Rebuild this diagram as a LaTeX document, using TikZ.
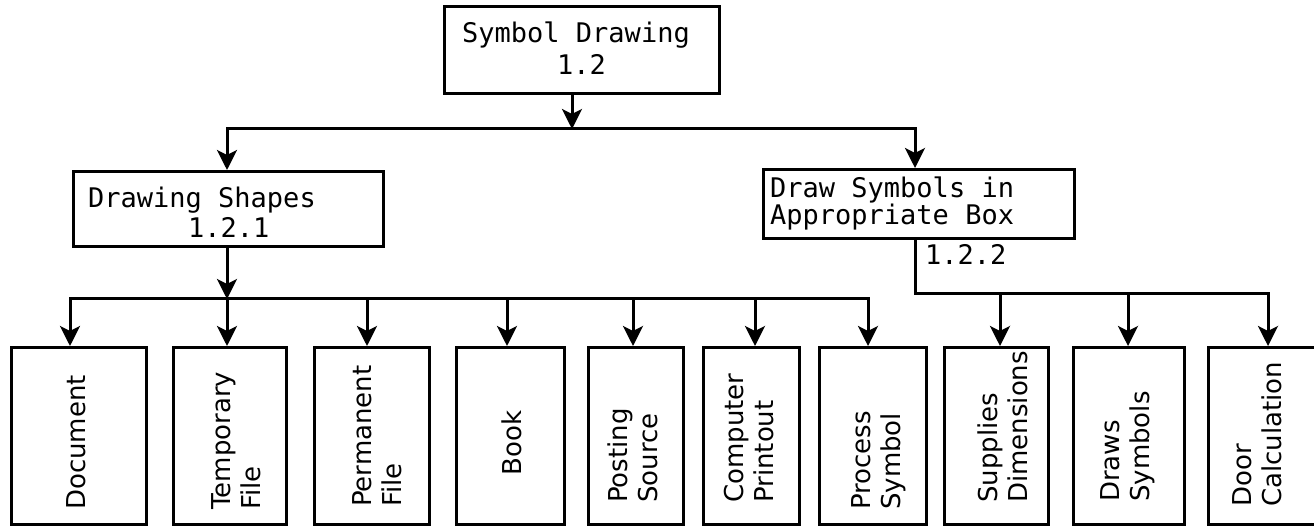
\documentclass[tikz,border=0pt]{standalone}
\usepackage{fontspec}
\setmainfont{DejaVu Sans}
\newfontfamily\monofam{DejaVu Sans Mono}
\usetikzlibrary{arrows.meta}
\tikzset{
  box/.style={draw, line width=3pt, rectangle, inner sep=0pt, anchor=north west},
  conn/.style={line width=3pt, line cap=rect},
  arr/.style={conn, -{Stealth[length=20pt,width=20pt,inset=5pt]}},
  mtext/.style={font=\monofam\fontsize{27}{32}\selectfont, inner sep=0pt, anchor=base west},
  vtext/.style={font=\fontsize{26}{30}\selectfont, inner sep=0pt, rotate=90, align=left, anchor=west},
}
\begin{document}
\begin{tikzpicture}[x=1pt,y=-1pt]
\useasboundingbox (0,0) rectangle (1314,526);
\clip (0,0) rectangle (1314,526);
% top level boxes
\node[box, minimum width=275pt, minimum height=87pt] (T) at (443,5) {};
\node[mtext] (T1) at (462,43) {Symbol Drawing};
\node[mtext] (T2) at (557,75) {1.2};
\node[box, minimum width=310pt, minimum height=75pt] (DS) at (72,170) {};
\node[mtext] (DS1) at (88,208) {Drawing Shapes};
\node[mtext] (DS2) at (188,238) {1.2.1};
\node[box, minimum width=311pt, minimum height=69pt] (RB) at (762,168) {};
\node[mtext] (RB1) at (770,198) {Draw Symbols in};
\node[mtext] (RB2) at (770,225) {Appropriate Box};
\node[mtext] (RB3) at (925,265) {1.2.2};
% bottom boxes
\foreach \n/\xa/\xb in {Doc/10/145, Tmp/172/285, Perm/313/428, Book/455/563, Post/587/682,
  Comp/702/798, Proc/818/925, Supp/943/1047, Draw/1072/1183, Door/1207/1330}{
  \pgfmathsetmacro{\w}{\xb-\xa}
  \node[box, minimum width=\w pt, minimum height=177pt] (\n) at (\xa,346) {};
}
\node[vtext] (tDoc) at (76,510) {Document};
\node[vtext] (tTmp) at (236,510) {Temporary\\File};
\node[vtext] (tPerm) at (377,507) {Permanent\\File};
\node[vtext, anchor=center] (tBook) at (512,443) {Book};
\node[vtext] (tPost) at (633,503) {Posting\\Source};
\node[vtext] (tComp) at (749,503) {Computer\\Printout};
\node[vtext] (tProc) at (879,510) {Process\\Symbol};
\node[vtext] (tSupp) at (1003,503) {Supplies\\Dimensions};
\node[vtext] (tDraw) at (1128,502) {Draws\\Symbols};
\node[vtext] (tDoor) at (1257,507) {Door\\Calculation};
% junction coordinates
\coordinate (m1) at (227,129);
\coordinate (m2) at (572,129);
\coordinate (m3) at (915,129);
\coordinate (b1) at (70,299);
\coordinate (b2) at (227,299);
\coordinate (b3) at (367,299);
\coordinate (b4) at (507,299);
\coordinate (b5) at (633,299);
\coordinate (b6) at (755,299);
\coordinate (b7) at (868,299);
\coordinate (r0) at (915,294);
\coordinate (r1) at (1000,294);
\coordinate (r2) at (1128,294);
\coordinate (r3) at (1268,294);
% connectors
\draw[arr] (T.south -| m2) -- (m2);
\draw[conn] (m1) -- (m3);
\draw[arr] (m1) -- (m1 |- DS.north);
\draw[arr] (m3) -- (m3 |- RB.north);
\draw[arr] (DS.south -| b2) -- (b2);
\draw[conn] (b1) -- (b7);
\draw[arr] (b1) -- (b1 |- Doc.north);
\draw[arr] (b2) -- (b2 |- Tmp.north);
\draw[arr] (b3) -- (b3 |- Perm.north);
\draw[arr] (b4) -- (b4 |- Book.north);
\draw[arr] (b5) -- (b5 |- Post.north);
\draw[arr] (b6) -- (b6 |- Comp.north);
\draw[arr] (b7) -- (b7 |- Proc.north);
\draw[conn] (RB.south -| r0) -- (r0) -- (r3);
\draw[arr] (r1) -- (r1 |- Supp.north);
\draw[arr] (r2) -- (r2 |- Draw.north);
\draw[arr] (r3) -- (r3 |- Door.north);
\end{tikzpicture}
\end{document}
